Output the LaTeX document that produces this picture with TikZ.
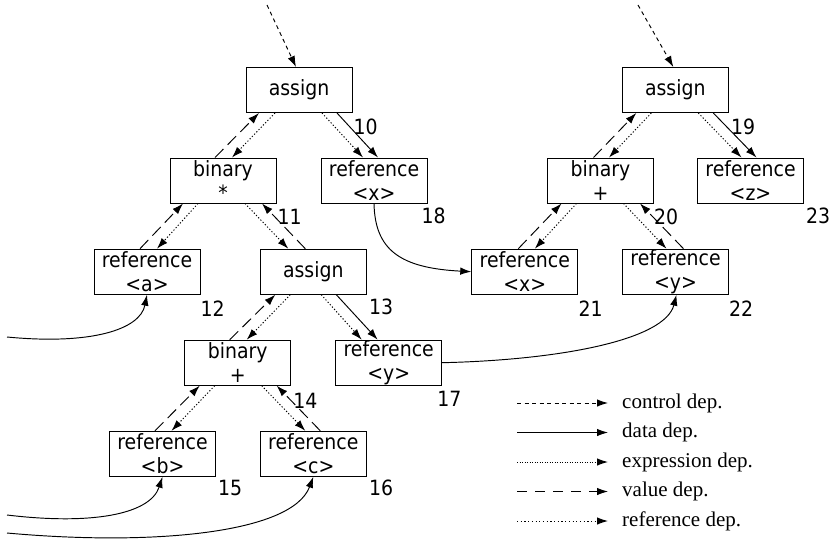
\documentclass[tikz,border=0pt]{standalone}
\usepackage{fontspec}
\usetikzlibrary{arrows.meta}
\newfontfamily\nodefont[FakeStretch=0.9]{DejaVu Sans}
\newfontfamily\legendfont{Liberation Serif}

\begin{document}
\begin{tikzpicture}[x=1pt,y=-1pt,
  box/.style={draw, line width=1pt, minimum width=106pt, minimum height=45pt,
    inner sep=0pt, align=center, font={\nodefont\fontsize{21}{24}\selectfont}},
  num/.style={anchor=north west, inner sep=0pt, font={\nodefont\fontsize{21}{24}\selectfont}},
  legend/.style={anchor=west, inner sep=0pt, font={\legendfont\fontsize{21}{24}\selectfont}},
  dep/.style={line width=0.95pt, -{Latex[length=11pt,width=7.5pt]}},
  ctrldep/.style={dep, dash pattern=on 4pt off 3.5pt},
  datadep/.style={dep},
  exprdep/.style={dep, dash pattern=on 1.2pt off 2pt},
  valdep/.style={dep, dash pattern=on 12pt off 6pt},
  refdep/.style={dep, dash pattern=on 1.2pt off 2.5pt},
]
\useasboundingbox (0,0) rectangle (832,543);

% ---- left statement tree ----
\node[box] (as1)  at (299,90)      {assign};
\node[box] (bin1) at (223,180.5)   {binary\\*};
\node[box] (r18)  at (374,180.5)   {reference\\<x>};
\node[box] (ra)   at (147,271.7)   {reference\\<a>};
\node[box] (as2)  at (313.3,271.7) {assign};
\node[box] (bin2) at (237.7,362.7) {binary\\+};
\node[box] (r17)  at (388.7,362.7) {reference\\<y>};
\node[box] (rb)   at (162.5,453.8) {reference\\<b>};
\node[box] (rc)   at (313.3,453.8) {reference\\<c>};

% ---- right statement tree ----
\node[box] (as3)  at (675.3,90)    {assign};
\node[box] (bin3) at (600.5,180.5) {binary\\+};
\node[box] (r23)  at (750.5,180.5) {reference\\<z>};
\node[box] (r21)  at (524.8,271.7) {reference\\<x>};
\node[box] (r22)  at (675.5,271.7) {reference\\<y>};

% ---- node numbers ----
\node[num] (n10) at ([xshift=1pt,yshift=-6pt]as1.south east)  {10};
\node[num] (n11) at ([xshift=1pt,yshift=-5pt]bin1.south east) {11};
\node[num] (n18) at ([xshift=-6pt,yshift=-4pt]r18.south east) {18};
\node[num] (n12) at ([xshift=0pt,yshift=-6pt]ra.south east)   {12};
\node[num] (n13) at ([xshift=2pt,yshift=-4pt]as2.south east)  {13};
\node[num] (n14) at ([xshift=2pt,yshift=-7pt]bin2.south east) {14};
\node[num] (n17) at ([xshift=-5pt,yshift=-5pt]r17.south east) {17};
\node[num] (n15) at ([xshift=2pt,yshift=-3pt]rb.south east)   {15};
\node[num] (n16) at ([xshift=2pt,yshift=-3pt]rc.south east)   {16};
\node[num] (n19) at ([xshift=2pt,yshift=-6pt]as3.south east)  {19};
\node[num] (n20) at ([xshift=0pt,yshift=-5pt]bin3.south east) {20};
\node[num] (n23) at ([xshift=2pt,yshift=-4pt]r23.south east)  {23};
\node[num] (n21) at ([xshift=0pt,yshift=-6pt]r21.south east)  {21};
\node[num] (n22) at ([xshift=0pt,yshift=-6pt]r22.south east)  {22};

% ---- incoming control dependences ----
\coordinate (c1) at (267,5);
\coordinate (c2) at (638,5);
\draw[ctrldep] (c1) -- ([xshift=-3pt]as1.north);
\draw[ctrldep] (c2) -- ([xshift=-2pt]as3.north);

% ---- left tree edges ----
\draw[valdep]  ([xshift=-8pt]bin1.north) -- ([xshift=-40pt]as1.south);
\draw[exprdep] ([xshift=-24pt]as1.south) -- ([xshift=9pt]bin1.north);
\draw[exprdep] ([xshift=23pt]as1.south)  -- ([xshift=-11pt]r18.north);
\draw[datadep] ([xshift=38pt]as1.south)  -- ([xshift=4pt]r18.north);

\draw[valdep]  ([xshift=-7pt]ra.north)    -- ([xshift=-40pt]bin1.south);
\draw[exprdep] ([xshift=-25pt]bin1.south) -- ([xshift=10pt]ra.north);
\draw[exprdep] ([xshift=22pt]bin1.south)  -- ([xshift=-25pt]as2.north);
\draw[valdep]  ([xshift=-8pt]as2.north)   -- ([xshift=39pt]bin1.south);

\draw[valdep]  ([xshift=-8pt]bin2.north) -- ([xshift=-38pt]as2.south);
\draw[exprdep] ([xshift=-23pt]as2.south) -- ([xshift=9pt]bin2.north);
\draw[exprdep] ([xshift=8pt]as2.south)   -- ([xshift=-27pt]r17.north);
\draw[datadep] ([xshift=23pt]as2.south)  -- ([xshift=-11pt]r17.north);

\draw[valdep]  ([xshift=-7.5pt]rb.north)  -- ([xshift=-38pt]bin2.south);
\draw[exprdep] ([xshift=-23pt]bin2.south) -- ([xshift=9pt]rb.north);
\draw[exprdep] ([xshift=24pt]bin2.south)  -- ([xshift=-8pt]rc.north);
\draw[valdep]  ([xshift=7pt]rc.north)     -- ([xshift=39pt]bin2.south);

% ---- right tree edges ----
\draw[valdep]  ([xshift=-7pt]bin3.north) -- ([xshift=-39pt]as3.south);
\draw[exprdep] ([xshift=-24pt]as3.south) -- ([xshift=8.5pt]bin3.north);
\draw[exprdep] ([xshift=23pt]as3.south)  -- ([xshift=-9pt]r23.north);
\draw[datadep] ([xshift=38pt]as3.south)  -- ([xshift=6pt]r23.north);

\draw[valdep]  ([xshift=-6.5pt]r21.north) -- ([xshift=-39pt]bin3.south);
\draw[exprdep] ([xshift=-24pt]bin3.south) -- ([xshift=10pt]r21.north);
\draw[exprdep] ([xshift=23pt]bin3.south)  -- ([xshift=-9pt]r22.north);
\draw[valdep]  ([xshift=8pt]r22.north)    -- ([xshift=39.5pt]bin3.south);

% ---- data dependences between trees and from outside ----
\draw[datadep] (r18.south) .. controls (375,250) and (400,268) .. (r21.west);
\draw[datadep] (r17.east) .. controls (560,360) and (665,340) .. ([xshift=1pt]r22.south);
\coordinate (ina) at (7,337);
\coordinate (inb) at (7,515);
\coordinate (inc) at (7,533);
\draw[datadep] (ina) .. controls (90,345) and (140,330) .. (ra.south);
\draw[datadep] (inb) .. controls (90,525) and (150,515) .. (rb.south);
\draw[datadep] (inc) .. controls (150,546) and (292,534) .. (rc.south);

% ---- legend ----
\node[legend] (lg1) at (622,403)   {control dep.};
\node[legend] (lg2) at (622,432.5) {data dep.};
\node[legend] (lg3) at (622,462)   {expression dep.};
\node[legend] (lg4) at (622,491.5) {value dep.};
\node[legend] (lg5) at (622,521)   {reference dep.};
\coordinate (ls1) at (517,403);
\coordinate (ls2) at (517,432.5);
\coordinate (ls3) at (517,462);
\coordinate (ls4) at (517,491.5);
\coordinate (ls5) at (517,521);
\draw[ctrldep] (ls1) -- ([xshift=-14pt]lg1.west);
\draw[datadep] (ls2) -- ([xshift=-14pt]lg2.west);
\draw[exprdep, dash pattern=on 1pt off 1.5pt] (ls3) -- ([xshift=-14pt]lg3.west);
\draw[valdep, dash pattern=on 10pt off 8pt] (ls4) -- ([xshift=-14pt]lg4.west);
\draw[refdep] (ls5) -- ([xshift=-14pt]lg5.west);
\end{tikzpicture}
\end{document}
